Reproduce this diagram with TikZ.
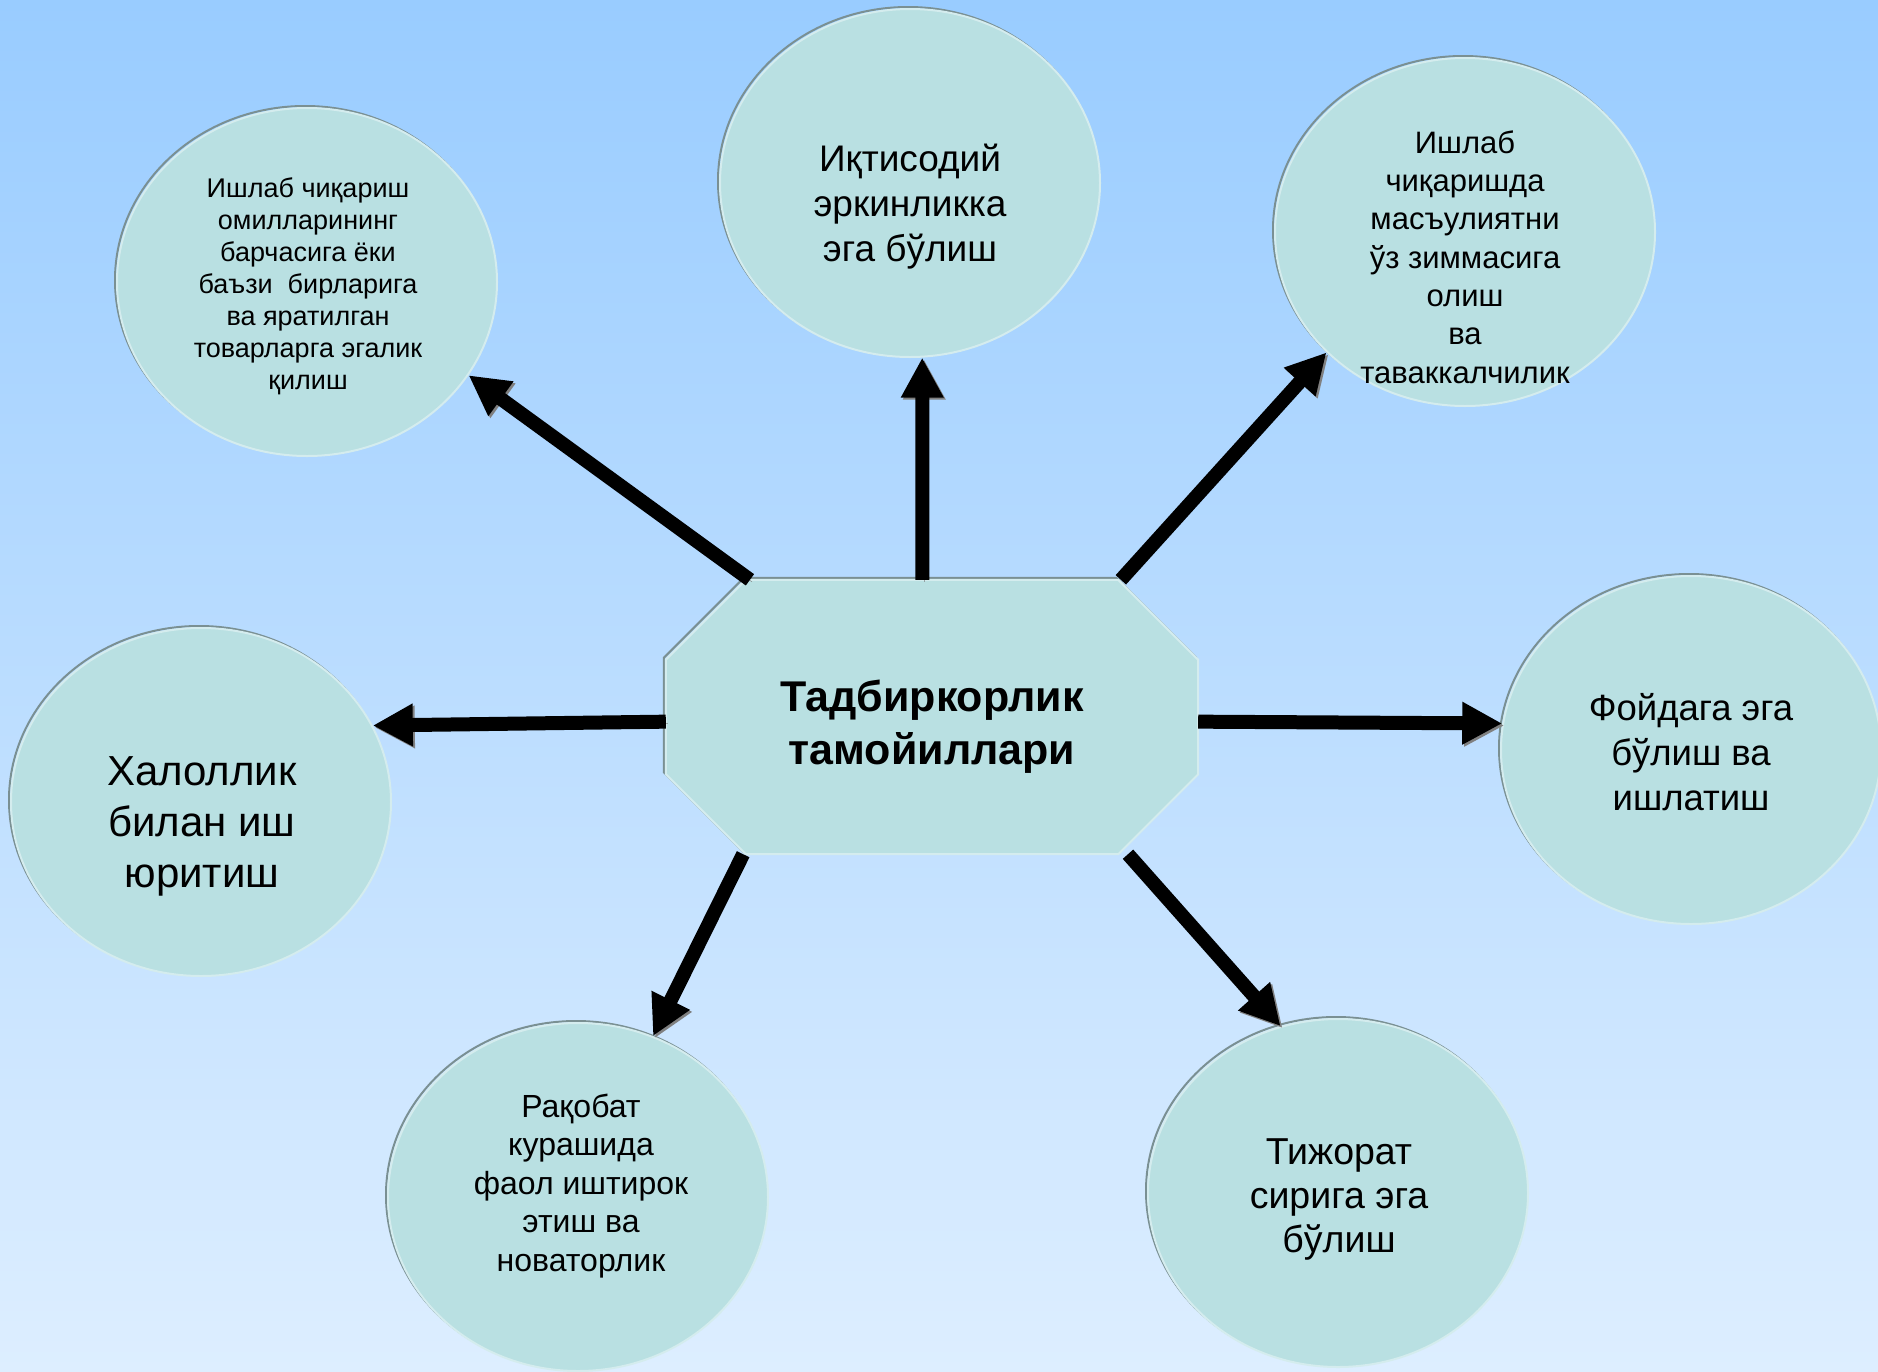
\documentclass[tikz,border=0pt]{standalone}
\usepackage{fontspec}
\setmainfont{Liberation Sans}
\usetikzlibrary{shapes.geometric,arrows.meta}

\definecolor{bgtop}{HTML}{99CCFF}
\definecolor{bgbot}{HTML}{DDEEFF}
\definecolor{cellfill}{HTML}{B9E0E2}
\definecolor{rimdark}{HTML}{7A9093}
\definecolor{rimlight}{HTML}{D4ECEE}
\newcommand\fsz[2]{\fontsize{#1}{#2}\selectfont}

\tikzset{
  plate/.style={fill=cellfill, draw=rimlight, line width=2pt,
    preaction={draw=rimdark, line width=2pt, transform canvas={shift={(-2pt,2pt)}}}},
  bubble/.style={ellipse, minimum width=380pt, minimum height=348pt, plate},
  core/.style={rectangle, minimum width=532pt, minimum height=274pt, inner sep=0pt},
  txt/.style={align=center, inner sep=0pt},
  push/.style={line width=14pt, -{Triangle[length=40pt,width=40pt]},
    preaction={draw=gray, transform canvas={shift={(2pt,-2pt)}}}}
}

\begin{document}
\begin{tikzpicture}[x=1pt,y=-1pt]
\useasboundingbox (0,0) rectangle (1878,1371);
\shade [top color=bgtop, bottom color=bgbot] (0,0) rectangle (1878,1371);

% outer bubbles
\node[bubble] (e1) at (307,282) {};
\node[bubble] (e2) at (910,183) {};
\node[bubble] (e3) at (1465,232) {};
\node[bubble] (e4) at (1691,750) {};
\node[bubble] (e5) at (201,802) {};
\node[bubble] (e6) at (578,1197) {};
\node[bubble] (e7) at (1338,1193) {};

\node[txt, font=\fsz{27}{32}] (t1) at (308,286) {Ишлаб чиқариш\\омилларининг\\барчасига ёки\\баъзи\ \ бирларига\\ва яратилган\\товарларга эгалик\\қилиш};
\node[txt, font=\fsz{37}{45}] (t2) at (910,207) {Иқтисодий\\эркинликка\\эга бўлиш};
\node[txt, font=\fsz{31}{38.3}] (t3) at (1465,257) {Ишлаб\\чиқаришда\\масъулиятни\\ўз зиммасига\\олиш\\ва\\таваккалчилик};
\node[txt, font=\fsz{36.5}{45}] (t4) at (1691,752) {Фойдага эга\\бўлиш ва\\ишлатиш};
\node[txt, font=\fsz{42}{51}] (t5) at (202,826) {Халоллик\\билан иш\\юритиш};
\node[txt, font=\fsz{32}{38.5}] (t6) at (581,1186) {Рақобат\\курашида\\фаол иштирок\\этиш ва\\новаторлик};
\node[txt, font=\fsz{37.5}{44}] (t7) at (1339,1199) {Тижорат\\сирига эга\\бўлиш};

% centre octagon
\node[core] (core) at (932,717) {};
\draw[plate] ([xshift=80pt]core.north west) -- ([xshift=-80pt]core.north east)
  -- ([yshift=-80pt]core.north east) -- ([yshift=80pt]core.south east)
  -- ([xshift=-80pt]core.south east) -- ([xshift=80pt]core.south west)
  -- ([yshift=80pt]core.south west) -- ([yshift=-80pt]core.north west) -- cycle;
\node[txt, font=\bfseries\fsz{43}{53}] (tc) at (932,727) {Тадбиркорлик\\тамойиллари};

% arrows
\draw[push] (core.143.5) -- (e1.-30.5);
\draw[push] (core.94.2) -- (e2.-86);
\draw[push] (core.36.2) -- (e3.221.7);
\draw[push] (core.-1.7) -- (e4.172.3);
\draw[push] (core.181.7) -- (e5.24.6);
\draw[push] (core.216) -- (e6.65.4);
\draw[push] (core.-35.6) -- (e7.109.8);
\end{tikzpicture}
\end{document}
